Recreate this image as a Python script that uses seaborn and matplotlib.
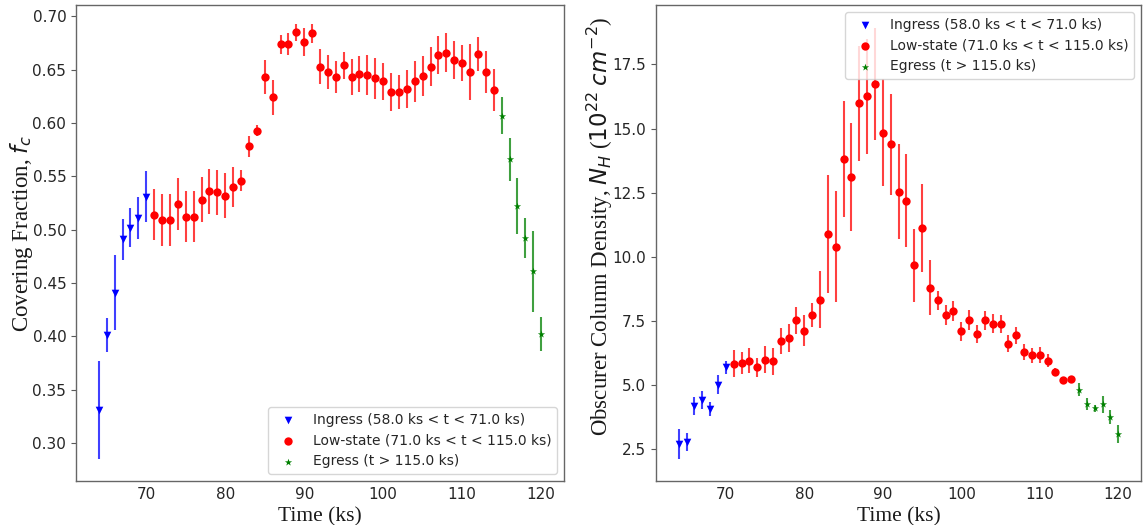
import numpy as np
import pandas as pd
import matplotlib
matplotlib.use("Agg")
import matplotlib.pyplot as plt
import seaborn as sns

# ---- data ----
t_ingress = [64, 65, 66, 67, 68, 69, 70]
t_low = list(range(71, 115))
t_egress = [115, 116, 117, 118, 119, 120]

fc_ingress = [0.331, 0.401, 0.441, 0.491, 0.502, 0.511, 0.531]
fc_ingress_err = [0.046, 0.016, 0.035, 0.019, 0.018, 0.020, 0.024]
fc_low = [0.514, 0.509, 0.509, 0.524, 0.512, 0.512, 0.528, 0.536, 0.535, 0.532,
          0.540, 0.546, 0.578, 0.593, 0.643, 0.624, 0.674, 0.674, 0.685, 0.676,
          0.684, 0.653, 0.648, 0.643, 0.654, 0.643, 0.646, 0.645, 0.642, 0.639,
          0.629, 0.629, 0.632, 0.639, 0.644, 0.653, 0.664, 0.666, 0.659, 0.656,
          0.648, 0.665, 0.648, 0.631]
fc_low_err = [0.024, 0.024, 0.024, 0.024, 0.024, 0.024, 0.021, 0.021, 0.021, 0.021,
              0.019, 0.010, 0.010, 0.005, 0.016, 0.016, 0.009, 0.010, 0.008, 0.013,
              0.009, 0.016, 0.016, 0.015, 0.013, 0.017, 0.017, 0.019, 0.019, 0.017,
              0.018, 0.016, 0.018, 0.019, 0.019, 0.018, 0.018, 0.018, 0.018, 0.017,
              0.026, 0.016, 0.020, 0.020]
fc_egress = [0.607, 0.566, 0.522, 0.492, 0.461, 0.402]
fc_egress_err = [0.017, 0.020, 0.026, 0.019, 0.038, 0.016]

nh_ingress = [2.70, 2.76, 4.18, 4.42, 4.06, 5.00, 5.68]
nh_ingress_err = [0.58, 0.35, 0.35, 0.36, 0.28, 0.37, 0.26]
nh_low = [5.83, 5.85, 5.95, 5.68, 5.98, 5.92, 6.70, 6.83, 7.52, 7.12,
          7.73, 8.33, 10.90, 10.39, 13.81, 13.11, 15.99, 16.26, 16.74, 14.84,
          14.38, 12.54, 12.19, 9.67, 11.13, 8.79, 8.30, 7.73, 7.90, 7.10,
          7.55, 6.99, 7.52, 7.39, 7.39, 6.60, 6.93, 6.27, 6.15, 6.15,
          5.95, 5.52, 5.19, 5.21]
nh_low_err = [0.52, 0.44, 0.50, 0.36, 0.52, 0.52, 0.51, 0.55, 0.53, 0.60,
              0.47, 1.13, 2.30, 2.16, 2.26, 2.12, 2.24, 2.25, 2.20, 2.10,
              1.98, 1.86, 1.83, 1.43, 1.71, 1.08, 0.38, 0.38, 0.39, 0.37,
              0.39, 0.34, 0.37, 0.36, 0.35, 0.33, 0.34, 0.31, 0.29, 0.31,
              0.26, 0.13, 0.13, 0.13]
nh_egress = [4.81, 4.25, 4.08, 4.25, 3.76, 3.09]
nh_egress_err = [0.25, 0.24, 0.14, 0.33, 0.27, 0.36]

labels = ["Ingress (58.0 ks < t < 71.0 ks)",
          "Low-state (71.0 ks < t < 115.0 ks)",
          "Egress (t > 115.0 ks)"]
colors = ["blue", "red", "green"]
markers = ["v", "o", "*"]

sns.set_style("white")
plt.rcParams["font.family"] = ["DejaVu Sans"]
plt.rcParams["mathtext.fontset"] = "dejavusans"

fig = plt.figure(figsize=(11.43, 5.25), dpi=100)
ax1 = fig.add_axes([76 / 1143, 44 / 525, 488 / 1143, 476 / 525])
ax2 = fig.add_axes([656 / 1143, 44 / 525, 485 / 1143, 476 / 525])

times = [t_ingress, t_low, t_egress]
panels = [
    (ax1, [fc_ingress, fc_low, fc_egress], [fc_ingress_err, fc_low_err, fc_egress_err],
     "Covering Fraction, $f_c$", "lower right", 0.521),
    (ax2, [nh_ingress, nh_low, nh_egress], [nh_ingress_err, nh_low_err, nh_egress_err],
     "Obscurer Column Density, $N_H$ ($10^{22}$ $cm^{-2}$)", "upper right", 0.536),
]
sizes = [30, 36, 30]

for ax, vals, errs, ylab, loc, ly in panels:
    for t, v, e, c, m, lab, s in zip(times, vals, errs, colors, markers, labels, sizes):
        ax.errorbar(t, v, yerr=e, fmt="none", ecolor=c, elinewidth=1.5, alpha=0.75)
        df = pd.DataFrame({"t": t, "v": v})
        sns.scatterplot(data=df, x="t", y="v", ax=ax, color=c, marker=m, s=s,
                        linewidth=0, label=lab, zorder=3)
    ax.set_xlabel("Time (ks)", family="Liberation Serif", fontsize=15.5, color="0.1")
    ax.set_ylabel(ylab, family="Liberation Serif", fontsize=16.5, color="0.1")
    ax.yaxis.set_label_coords(-0.084, ly)
    ax.set_xticks([70, 80, 90, 100, 110, 120])
    ax.tick_params(axis="x", direction="in", length=3.5, labelsize=11, colors="0.35",
                   labelcolor="0.15", pad=4)
    ax.tick_params(axis="y", direction="out", length=3.5, labelsize=11, colors="0.35",
                   labelcolor="0.15", left=True)
    for sp in ax.spines.values():
        sp.set_color("0.4")
        sp.set_linewidth(1.0)
    ax.legend(loc=loc, fontsize=10, frameon=True, framealpha=0.8)

ax1.set_yticks([0.30, 0.35, 0.40, 0.45, 0.50, 0.55, 0.60, 0.65, 0.70])
ax1.set_xlim(61.1, 122.9)
ax1.set_ylim(0.2643, 0.7107)
ax2.set_xlim(61.1, 122.9)
ax2.set_yticks([2.5, 5.0, 7.5, 10.0, 12.5, 15.0, 17.5])
ax2.set_ylim(1.25, 19.82)

fig.savefig("out.png", dpi=100)
